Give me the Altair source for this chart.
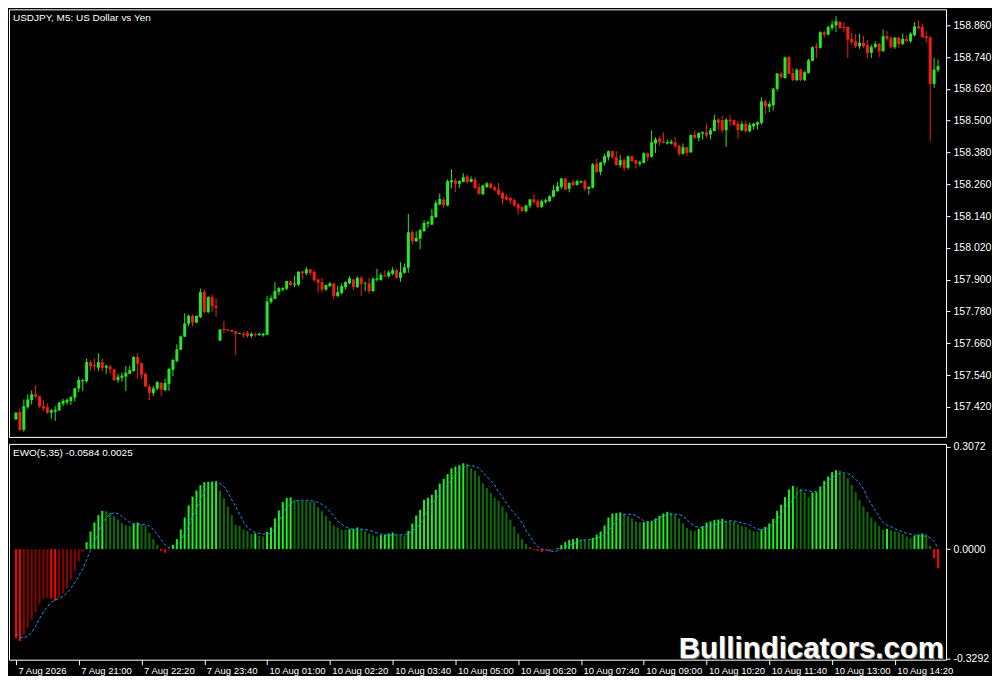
import json
import altair as alt
import pandas as pd

# ---------------- data (USDJPY M5) ----------------
open_ = [
157.373,157.401,157.334,157.419,157.446,157.468,157.460,157.423,157.419,157.398,
157.402,157.407,157.432,157.437,157.442,157.455,157.489,157.517,157.517,157.588,
157.579,157.568,157.589,157.568,157.573,157.561,157.521,157.530,157.534,157.545,
157.555,157.608,157.585,157.544,157.497,157.472,157.489,157.511,157.483,157.507,
157.560,157.593,157.636,157.685,157.734,157.763,157.738,157.759,157.853,157.778,
157.834,157.800,157.670,157.715,157.712,157.710,157.705,157.696,157.697,157.700,
157.687,157.696,157.691,157.690,157.692,157.816,157.828,157.854,157.862,157.866,
157.893,157.881,157.881,157.931,157.924,157.939,157.929,157.901,157.891,157.863,
157.876,157.886,157.838,157.850,157.872,157.886,157.901,157.872,157.907,157.886,
157.886,157.857,157.900,157.898,157.917,157.913,157.922,157.936,157.907,157.926,
157.945,158.079,158.045,158.055,158.083,158.111,158.108,158.136,158.184,158.202,
158.180,158.268,158.274,158.262,158.269,158.290,158.269,158.278,158.249,158.223,
158.250,158.263,158.249,158.240,158.228,158.213,158.209,158.200,158.184,158.175,
158.159,158.179,158.203,158.196,158.174,158.194,158.196,158.213,158.234,158.250,
158.282,158.243,158.269,158.257,158.267,158.272,158.243,158.247,158.338,158.307,
158.341,158.362,158.385,158.362,158.332,158.351,158.322,158.366,158.351,158.337,
158.341,158.377,158.364,158.414,158.431,158.422,158.414,158.414,158.419,158.406,
158.375,158.400,158.381,158.448,158.435,158.451,158.456,158.448,158.461,158.504,
158.502,158.464,158.504,158.502,158.488,158.464,158.489,158.460,158.479,158.485,
158.492,158.573,158.552,158.558,158.620,158.678,158.661,158.740,158.680,158.653,
158.693,158.653,158.680,158.726,158.781,158.775,158.834,158.825,158.850,158.860,
158.873,158.854,158.854,158.809,158.800,158.781,158.794,158.785,158.756,158.778,
158.790,158.762,158.819,158.812,158.777,158.814,158.790,158.809,158.800,158.822,
158.856,158.854,158.819,158.815,158.639,158.691]

high = [
157.401,157.414,157.448,157.467,157.482,157.502,157.461,157.445,157.434,157.413,
157.423,157.440,157.450,157.452,157.461,157.492,157.534,157.525,157.603,157.595,
157.603,157.622,157.603,157.580,157.578,157.564,157.545,157.550,157.574,157.574,
157.612,157.623,157.587,157.550,157.505,157.499,157.517,157.514,157.527,157.568,
157.602,157.656,157.690,157.773,157.769,157.769,157.765,157.867,157.863,157.838,
157.844,157.829,157.714,157.744,157.714,157.711,157.706,157.700,157.702,157.706,
157.702,157.700,157.700,157.700,157.838,157.841,157.891,157.872,157.872,157.896,
157.895,157.914,157.932,157.935,157.949,157.941,157.936,157.904,157.906,157.881,
157.891,157.888,157.878,157.886,157.894,157.913,157.903,157.913,157.913,157.892,
157.907,157.910,157.941,157.926,157.936,157.935,157.947,157.941,157.966,157.961,
158.148,158.087,158.083,158.092,158.125,158.123,158.167,158.199,158.226,158.211,
158.278,158.317,158.282,158.275,158.302,158.297,158.290,158.287,158.263,158.259,
158.268,158.265,158.255,158.265,158.234,158.224,158.211,158.206,158.190,158.177,
158.184,158.205,158.221,158.203,158.203,158.206,158.218,158.257,158.269,158.284,
158.284,158.268,158.278,158.278,158.274,158.278,158.253,158.341,158.357,158.345,
158.375,158.387,158.387,158.385,158.370,158.360,158.369,158.369,158.353,158.350,
158.381,158.380,158.464,158.438,158.441,158.456,158.429,158.429,158.438,158.410,
158.414,158.401,158.448,158.464,158.456,158.460,158.489,158.473,158.523,158.510,
158.519,158.510,158.523,158.504,158.498,158.498,158.500,158.494,158.492,158.498,
158.588,158.580,158.572,158.624,158.680,158.686,158.742,158.745,158.699,158.697,
158.697,158.687,158.734,158.781,158.794,158.838,158.840,158.859,158.878,158.894,
158.875,158.872,158.856,158.831,158.828,158.828,158.819,158.804,158.787,158.800,
158.794,158.844,158.838,158.819,158.815,158.815,158.829,158.822,158.834,158.872,
158.878,158.866,158.838,158.819,158.737,158.731]

low = [
157.370,157.329,157.326,157.413,157.429,157.452,157.417,157.404,157.393,157.375,
157.367,157.404,157.422,157.429,157.427,157.440,157.476,157.480,157.511,157.556,
157.558,157.555,157.553,157.543,157.545,157.517,157.511,157.515,157.480,157.543,
157.553,157.527,157.524,157.495,157.446,157.461,157.482,157.461,157.480,157.480,
157.536,157.587,157.633,157.684,157.725,157.723,157.736,157.755,157.773,157.773,
157.778,157.760,157.668,157.697,157.706,157.702,157.614,157.695,157.681,157.681,
157.681,157.684,157.687,157.685,157.691,157.809,157.826,157.841,157.856,157.861,
157.876,157.872,157.876,157.901,157.916,157.916,157.893,157.851,157.851,157.858,
157.872,157.825,157.834,157.844,157.863,157.882,157.861,157.869,157.838,157.857,
157.847,157.853,157.892,157.897,157.910,157.907,157.917,157.905,157.892,157.922,
157.926,158.033,158.042,158.014,158.081,158.096,158.106,158.133,158.181,158.171,
158.177,158.244,158.230,158.246,158.267,158.262,158.267,158.243,158.221,158.219,
158.246,158.244,158.234,158.219,158.184,158.199,158.184,158.174,158.146,158.156,
158.152,158.169,158.184,158.169,158.171,158.186,158.194,158.211,158.232,158.240,
158.238,158.230,158.250,158.255,158.263,158.234,158.221,158.244,158.303,158.294,
158.331,158.350,158.356,158.330,158.322,158.309,158.316,158.345,158.318,158.328,
158.338,158.347,158.360,158.378,158.406,158.414,158.410,158.410,158.397,158.366,
158.372,158.366,158.378,158.429,158.422,158.429,158.435,158.429,158.460,158.464,
158.454,158.401,158.479,158.482,158.431,158.460,158.454,158.456,158.466,158.466,
158.485,158.526,158.532,158.539,158.611,158.658,158.659,158.676,158.649,158.649,
158.649,158.649,158.678,158.724,158.737,158.772,158.812,158.822,158.841,158.835,
158.846,158.835,158.737,158.787,158.775,158.771,158.775,158.735,158.737,158.772,
158.741,158.761,158.802,158.772,158.771,158.775,158.785,158.799,158.794,158.819,
158.846,158.814,158.794,158.423,158.624,158.684]

close = [
157.398,157.333,157.422,157.448,157.467,157.458,157.421,157.414,157.398,157.407,
157.409,157.436,157.443,157.447,157.457,157.490,157.522,157.521,157.589,157.574,
157.573,157.589,157.566,157.575,157.561,157.521,157.534,157.538,157.549,157.559,
157.608,157.583,157.541,157.497,157.473,157.490,157.514,157.485,157.510,157.563,
157.597,157.637,157.686,157.735,157.763,157.738,157.763,157.853,157.778,157.834,
157.800,157.794,157.712,157.710,157.707,157.704,157.696,157.699,157.692,157.687,
157.696,157.691,157.696,157.696,157.818,157.831,157.857,157.868,157.868,157.895,
157.880,157.885,157.930,157.924,157.939,157.926,157.898,157.888,157.863,157.880,
157.886,157.838,157.853,157.876,157.891,157.905,157.873,157.907,157.884,157.888,
157.857,157.903,157.905,157.918,157.913,157.928,157.936,157.907,157.928,157.947,
158.079,158.045,158.058,158.087,158.114,158.117,158.140,158.190,158.205,158.181,
158.272,158.275,158.262,158.272,158.287,158.269,158.280,158.246,158.224,158.256,
158.264,158.246,158.238,158.221,158.206,158.203,158.199,158.181,158.169,158.159,
158.180,158.203,158.193,158.175,158.196,158.200,158.215,158.238,158.253,158.282,
158.240,158.265,158.257,158.272,158.272,158.243,158.250,158.335,158.306,158.343,
158.366,158.385,158.362,158.332,158.351,158.322,158.366,158.347,158.338,158.343,
158.377,158.362,158.419,158.429,158.420,158.416,158.419,158.421,158.404,158.375,
158.400,158.378,158.446,158.435,158.454,158.456,158.444,158.464,158.504,158.492,
158.464,158.504,158.498,158.483,158.464,158.488,158.460,158.485,158.489,158.494,
158.573,158.554,158.563,158.621,158.678,158.664,158.739,158.677,158.653,158.693,
158.653,158.683,158.728,158.777,158.775,158.834,158.825,158.853,158.863,158.875,
158.850,158.850,158.806,158.796,158.781,158.794,158.781,158.756,158.778,158.790,
158.762,158.819,158.809,158.777,158.814,158.790,158.809,158.800,158.828,158.856,
158.848,158.815,158.812,158.639,158.693,158.706]

ewo = [
-0.268,-0.276,-0.259,-0.236,-0.212,-0.190,-0.166,-0.150,-0.146,-0.148,
-0.155,-0.145,-0.132,-0.118,-0.091,-0.066,-0.036,-0.008,0.021,0.053,
0.080,0.102,0.115,0.114,0.109,0.099,0.089,0.079,0.072,0.069,
0.077,0.080,0.074,0.069,0.049,0.030,0.013,-0.006,-0.011,-0.002,
0.013,0.030,0.059,0.095,0.131,0.158,0.176,0.192,0.201,0.202,
0.203,0.204,0.176,0.153,0.128,0.102,0.072,0.070,0.059,0.055,
0.045,0.047,0.040,0.038,0.052,0.065,0.092,0.116,0.141,0.154,
0.155,0.148,0.146,0.145,0.144,0.143,0.141,0.126,0.114,0.099,
0.085,0.071,0.065,0.059,0.058,0.060,0.061,0.065,0.060,0.055,
0.047,0.041,0.038,0.042,0.044,0.047,0.050,0.044,0.042,0.040,
0.055,0.077,0.101,0.118,0.148,0.154,0.163,0.178,0.197,0.211,
0.225,0.243,0.248,0.252,0.258,0.257,0.243,0.235,0.219,0.198,
0.184,0.169,0.154,0.145,0.128,0.110,0.089,0.068,0.047,0.030,
0.015,0.006,-0.003,-0.005,-0.009,-0.004,-0.007,-0.002,0.003,0.012,
0.021,0.027,0.030,0.033,0.030,0.028,0.027,0.033,0.044,0.053,
0.071,0.095,0.107,0.108,0.110,0.104,0.099,0.092,0.083,0.080,
0.081,0.083,0.085,0.092,0.100,0.107,0.112,0.110,0.103,0.092,
0.077,0.064,0.057,0.055,0.061,0.069,0.080,0.083,0.087,0.089,
0.091,0.085,0.084,0.083,0.075,0.069,0.067,0.059,0.054,0.053,
0.059,0.067,0.077,0.091,0.115,0.133,0.156,0.179,0.190,0.186,
0.181,0.171,0.156,0.170,0.171,0.188,0.205,0.218,0.231,0.237,
0.236,0.227,0.213,0.193,0.171,0.148,0.128,0.112,0.095,0.082,
0.069,0.059,0.061,0.057,0.053,0.051,0.045,0.038,0.033,0.039,
0.044,0.047,0.045,0.010,-0.027,-0.058]

signal = [
-0.254,-0.264,-0.266,-0.262,-0.251,-0.231,-0.209,-0.188,-0.173,-0.160,
-0.152,-0.148,-0.142,-0.132,-0.118,-0.101,-0.081,-0.059,-0.032,-0.004,
0.022,0.049,0.077,0.095,0.105,0.109,0.107,0.099,0.089,0.080,
0.076,0.074,0.074,0.073,0.069,0.059,0.045,0.028,0.013,0.004,
0.002,0.010,0.026,0.047,0.069,0.097,0.121,0.148,0.171,0.188,
0.197,0.200,0.197,0.188,0.171,0.148,0.128,0.105,0.082,0.065,
0.055,0.050,0.047,0.045,0.045,0.049,0.062,0.082,0.105,0.125,
0.136,0.144,0.146,0.147,0.147,0.146,0.144,0.140,0.134,0.126,
0.112,0.099,0.085,0.075,0.067,0.062,0.060,0.060,0.060,0.059,
0.057,0.053,0.049,0.045,0.042,0.042,0.042,0.043,0.043,0.043,
0.047,0.053,0.062,0.077,0.095,0.116,0.134,0.151,0.168,0.181,
0.194,0.207,0.225,0.238,0.245,0.250,0.251,0.248,0.243,0.230,
0.218,0.205,0.193,0.171,0.156,0.138,0.121,0.107,0.095,0.079,
0.055,0.038,0.020,0.008,0.000,-0.002,-0.005,-0.007,-0.005,0.001,
0.007,0.010,0.016,0.021,0.026,0.028,0.028,0.030,0.033,0.038,
0.042,0.053,0.069,0.085,0.099,0.104,0.105,0.105,0.101,0.093,
0.085,0.082,0.082,0.087,0.095,0.100,0.103,0.105,0.105,0.104,
0.099,0.089,0.077,0.069,0.065,0.064,0.066,0.069,0.072,0.077,
0.081,0.083,0.085,0.085,0.081,0.078,0.076,0.073,0.065,0.060,
0.059,0.060,0.065,0.075,0.089,0.105,0.124,0.136,0.148,0.166,
0.176,0.178,0.176,0.172,0.173,0.181,0.190,0.203,0.215,0.223,
0.228,0.229,0.227,0.220,0.210,0.197,0.181,0.154,0.136,0.116,
0.097,0.079,0.072,0.067,0.061,0.056,0.052,0.047,0.045,0.042,
0.040,0.039,0.039,0.034,0.023,0.003]

time_labels = ["7 Aug 2026", "7 Aug 21:00", "7 Aug 22:20", "7 Aug 23:40",
               "10 Aug 01:00", "10 Aug 02:20", "10 Aug 03:40", "10 Aug 05:00",
               "10 Aug 06:20", "10 Aug 07:40", "10 Aug 09:00", "10 Aug 10:20",
               "10 Aug 11:40", "10 Aug 13:00", "10 Aug 14:20"]
label_step = 16
price_ticks = [157.420, 157.540, 157.660, 157.780, 157.900, 158.020, 158.140,
               158.260, 158.380, 158.500, 158.620, 158.740, 158.860]
ewo_ticks = [0.3072, 0.0, -0.3292]
title_text = "USDJPY, M5:  US Dollar vs Yen"
ewo_text = "EWO(5,35) -0.0584 0.0025"
watermark = "Bullindicators.com"

# ---------------- frames ----------------
n = len(close)
idx = list(range(n))
cdf = pd.DataFrame({"i": idx, "open": open_, "high": high, "low": low, "close": close})
cdf["dir"] = ["up" if c >= o else "down" for o, c in zip(open_, close)]

state = []
for k, v in enumerate(ewo):
    prev = ewo[k - 1] if k > 0 else v + 0.001
    if v >= 0:
        state.append("pos_up" if v > prev else "pos_dn")
    else:
        state.append("neg_dn" if v < prev else "neg_up")
edf = pd.DataFrame({"i": idx, "ewo": ewo, "sig": signal, "state": state})

# ---------------- styling ----------------
W = 938
H_TOP = 428
H_BOT = 216
FONT = "Liberation Sans"
GREEN = "#28e628"
RED = "#f01e14"

xscale = alt.Scale(domain=[-0.504, 235.77], nice=False, zero=False)
pscale = alt.Scale(domain=[157.3067, 158.9203], nice=False, zero=False)
escale = alt.Scale(domain=[-0.332, 0.316], nice=False, zero=False)
ccol = alt.Color("dir:N", scale=alt.Scale(domain=["up", "down"], range=[GREEN, RED]), legend=None)

price_axis = alt.Axis(orient="right", values=price_ticks, tickCount=40, format=".3f", title=None,
                      tickSize=4, labelPadding=3, grid=False, domain=False,
                      labelOverlap=False, labelBound=False, labelFlush=False)

base = alt.Chart(cdf).encode(x=alt.X("i:Q", scale=xscale, axis=None))
wick = base.mark_rule(strokeWidth=1).encode(
    y=alt.Y("low:Q", scale=pscale, axis=price_axis), y2="high:Q", color=ccol)
body = base.mark_bar(width=3).encode(
    y=alt.Y("open:Q", scale=pscale), y2="close:Q", color=ccol)
ttl = alt.Chart(pd.DataFrame({"t": [title_text]})).mark_text(
    align="left", baseline="middle", font=FONT, fontSize=10, color="white"
).encode(x=alt.value(4), y=alt.value(9), text="t:N")

top = alt.layer(wick, body, ttl).properties(width=W, height=H_TOP)

ewo_axis = alt.Axis(orient="right", values=ewo_ticks, tickCount=40, title=None, tickSize=4, labelPadding=3,
                    grid=False, domain=False, labelOverlap=False, labelBound=False, labelFlush=False,
                    labelExpr="datum.value < 0 ? '-' + format(-datum.value, '.4f') : format(datum.value, '.4f')")
x_axis = alt.Axis(orient="bottom", values=list(range(0, n, label_step)), tickCount=60, title=None,
                  tickSize=5, labelPadding=1, labelAlign="left", labelBaseline="top",
                  labelOffset=2, labelOverlap=False, labelFlush=False, labelBound=False,
                  labelFontSize=9.5, grid=False, domain=False,
                  labelExpr=json.dumps(time_labels) + "[round(datum.value / %d)]" % label_step)

scol = alt.Color("state:N", scale=alt.Scale(
    domain=["pos_up", "pos_dn", "neg_dn", "neg_up"],
    range=["#1ef01e", "#0b6e0b", "#ff0000", "#8b0000"]), legend=None)

hist = alt.Chart(edf).mark_bar(width=2).encode(
    x=alt.X("i:Q", scale=xscale, axis=x_axis),
    y=alt.Y("ewo:Q", scale=escale, axis=ewo_axis),
    y2=alt.Y2Datum(0),
    color=scol)
sig = alt.Chart(edf).mark_line(color="#1e90ff", strokeWidth=1, strokeDash=[3, 2]).encode(
    x=alt.X("i:Q", scale=xscale), y=alt.Y("sig:Q", scale=escale))
etl = alt.Chart(pd.DataFrame({"t": [ewo_text]})).mark_text(
    align="left", baseline="middle", font=FONT, fontSize=10, color="white"
).encode(x=alt.value(4), y=alt.value(9), text="t:N")
wm_df = pd.DataFrame({"t": [watermark]})
wm_shadow = alt.Chart(wm_df).mark_text(
    align="right", baseline="alphabetic", font=FONT, fontSize=29.5, fontWeight="bold",
    color="#8a8a8a", dx=1, dy=1
).encode(x=alt.value(936), y=alt.value(214), text="t:N")
wm = alt.Chart(wm_df).mark_text(
    align="right", baseline="alphabetic", font=FONT, fontSize=29.5, fontWeight="bold",
    color="white"
).encode(x=alt.value(936), y=alt.value(214), text="t:N")

bottom = alt.layer(hist, sig, etl, wm_shadow, wm).properties(width=W, height=H_BOT)

chart = alt.vconcat(top, bottom, spacing=3).resolve_scale(
    color="independent"
).properties(
    padding={"left": 0, "top": 0, "right": 0, "bottom": 0},
    background="black",
).configure_view(
    stroke="white", strokeWidth=1
).configure_axis(
    labelFont=FONT, labelFontSize=10.5, labelColor="white", tickColor="white",
    tickWidth=1
)

chart.save("out.html", embed_options={"renderer": "svg", "actions": False})
